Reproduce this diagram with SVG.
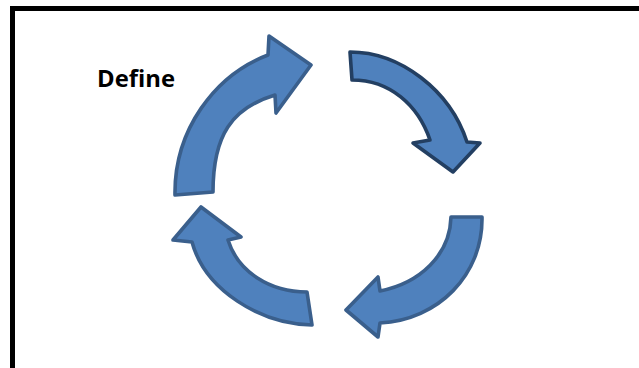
<svg xmlns="http://www.w3.org/2000/svg" width="639" height="368" viewBox="0 0 639 368">
<style>
.arrow{fill:#4F81BD;stroke:#3A5F8C;stroke-width:3.6;stroke-linejoin:round}
.dark{stroke:#233F62}
.label{font-family:"Open Sans","Liberation Sans",sans-serif;font-weight:bold;font-size:23px;fill:#000}
</style>
<rect width="639" height="368" fill="#fff"/>
<rect x="12.5" y="8.5" width="650" height="380" fill="none" stroke="#000" stroke-width="5"/>
<g id="label-define"><text class="label" x="97" y="87" textLength="78" lengthAdjust="spacingAndGlyphs">Define</text></g>
<g id="connectors">
<g id="arrow-top-left"><path class="arrow" d="M175,195 C174,130 215,75 268,55 L269,36 L311,65 L276,113 L275,95 C232,108 213,135 213,192 Z"/></g>
<g id="arrow-top-right"><path class="arrow dark" d="M350,52 C400,52 450,90 467,142 L480,143 L453,172 L413,143 L430,140 C418,105 390,80 352,80 Z"/></g>
<g id="arrow-bottom-right"><path class="arrow" d="M482,217 C483,275 438,320 380,323 L378,337 L346,310 L378,277 L380,291 C420,283 450,255 451,217 Z"/></g>
<g id="arrow-bottom-left"><path class="arrow" d="M312,325 C260,324 205,290 192,242 L173,240 L201,207 L241,237 L228,240 C238,272 270,292 307,292 Z"/></g>
</g>
</svg>
